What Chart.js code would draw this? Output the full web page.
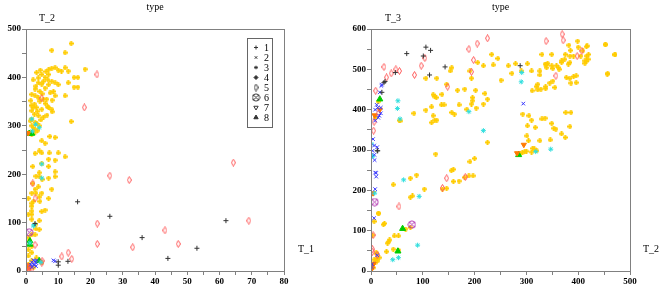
<!DOCTYPE html>
<html>
<head>
<meta charset="utf-8">
<script src="https://cdn.jsdelivr.net/npm/chart.js@4/dist/chart.umd.min.js"></script>
<style>
  body { margin: 0; background: #fff; }
  #wrap { position: relative; width: 664px; height: 292px; }
  canvas { position: absolute; top: 0; }
</style>
</head>
<body>
<div id="wrap">
  <canvas id="leftChart" width="332" height="292" style="left:0"></canvas>
  <canvas id="rightChart" width="332" height="292" style="left:332px"></canvas>
</div>
<script>
// series labels (values of "type")
const typeLabels = ['1', '2', '3', '4', '5', '6', '7', '8'];

// left panel: T_1 (x) against T_2 (y)
const leftType1 = [[16,143],[26,113],[36,69],[62,104],[53,47],[44,26],[13,20],[10,19],[10,12],[2.8,98]];
const leftType2 = [[1.8,8],[2.3,14],[2.8,20],[3.1,17],[2.3,22],[1.8,18],[3.1,10],[2.6,12],[3.3,22],[9,20],[8.5,22],[1.5,13]];
const leftType3 = [[1.8,314],[4.1,296],[2.3,93],[4.9,192],[4.9,221],[3.0,303],[2.0,289],[2.6,96],[1.2,58],[4.6,18]];
const leftType4 = [
  [14,470],[8,456],[12.1,451],[18.3,417],[16.1,400],[16.1,380],[14.9,400],[14.9,380],[13.1,389],[12.1,362],
  [14,309],[8.1,329],[8.1,353],[8.5,371],[6.7,339],[7,416],[8,419],[9,420],[10,415],[11,413],
  [12.1,420],[13.1,413],[7,406],[5.9,400],[4.9,406],[3.8,399],[3.8,389],[4.9,386],[2.8,376],[1.8,365],
  [2.8,362],[4.3,371],[5.9,378],[7,385],[8,392],[9,389],[10,385],[7.5,368],[9,362],[6.4,355],
  [4.3,351],[2.6,345],[1.8,331],[3.2,338],[4.9,334],[7,338],[8,334],[2.6,324],[3.8,321],[5.4,318],
  [1.8,314],[2.8,307],[1.8,300],[2.6,293],[1.2,287],[1.8,283],[4.1,300],[3.2,305],[2.8,287],[5.4,355],
  [5.4,392],[3.8,358],[4.9,269],[5.9,264],[7.4,278],[9,276],[2.2,395],[3.3,410],[4.4,415],[6.2,412],
  [1.5,352],[2.2,338],[3.5,330],[1.3,310],[2.2,296],[3.6,290],[6.5,322],[4.6,312],[6,346],[5,366],
  [6.8,395],[3.1,382],[1.6,342],
  [4.1,248],[4.9,244],[2.8,243],[7.2,244],[10,244],[12.1,236],[7,231],[9,229],[4.9,222],[2.1,216],
  [7,216],[9,205],[4.1,203],[3.1,196],[4.1,195],[7,192],[9,195],[5,189],[2.1,181],[3.8,174],
  [8,169],[2.8,169],[1.8,161],[3.1,161],[4.9,161],[7,150],[4.1,153],[0.7,150],[2.3,144],[4.3,144],
  [5.9,126],[4.9,123],[1.8,140],[1.8,134],[1.8,124],[1.8,117],[0.7,117],[1.8,107],[4.1,104],[2.8,96],
  [3.1,87],[4.1,86],[1.8,75],[2.8,75],[0.7,69],[1.2,62],[1.8,51],[0.7,44],[1.8,38],[0.7,31],
  [3.2,27],[1.8,21],[0.7,14],[4.9,17],[2.3,7],[0.2,4]
];
const leftType5 = [[22,406],[18.1,338],[26,197],[32,188],[64.3,224],[69.1,104],[22.1,98],[43.1,84],[22.1,56],[47.2,56],
  [33.1,49],[13.1,38],[11.1,30],[14.2,25],[4.9,17],[5,21],[2.8,54],[2.1,181],[2.8,150],[4.9,357],[1.2,4],[1.8,3],[0.5,8]];
const leftType6 = [[1,80]];
const leftType7 = [[0.7,12],[0.7,285],[0.3,5],[1.2,7]];
const leftType8 = [[1.2,62],[1.2,55],[4.1,21],[1,284],[1.8,284]];

// right panel: T_2 (x) against T_3 (y)
const rightType1 = [[69,539],[106,555],[115,547],[101,533],[113,486],[143,506],[288,509],[27,470],[13,298],[21,443],[47,492],[25,467],[12,298]];
const rightType2 = [[21,462],[17,443],[20,459],[11,412],[13,405],[19,405],[8,400],[19,391],[14,380],[16,385],
  [8,373],[294,415],[6.5,288],[8,244],[10,243],[10,234],[8,203],[6,131],[12,39],[2,17],[1,10],[4,327],[6,311],[3,298],[12,307],[7,275]];
const rightType3 = [[52,422],[51,403],[56,377],[291,492],[290,469],[217,348],[189,395],[63,226],[93,185],[90,64],
  [42,28],[53,33],[347,302],[3,285],[7,193],[1,315],[2,284],[318,296]];
const rightType4 = [
  [453,562],[471,537],[457,490],[399,570],[382,560],[417,558],[400,555],[385,547],[420,537],[413,521],
  [375,537],[368,521],[381,513],[362,504],[349,509],[336,513],[330,537],[349,537],[326,496],[310,496],
  [302,514],[290,496],[279,514],[265,509],[272,490],[251,473],[236,511],[245,527],[233,537],[217,509],
  [206,517],[191,496],[194,478],[156,504],[153,496],[127,478],[106,478],[83,391],[106,399],[120,437],
  [123,432],[126,430],[137,438],[146,463],[167,448],[181,451],[202,448],[196,430],[196,422],[194,414],
  [185,401],[203,404],[220,440],[225,426],[217,414],[170,412],[136,412],[141,412],[156,393],[161,389],
  [117,407],[120,385],[117,368],[123,374],[127,374],[56,372],[293,389],[305,385],[310,374],[330,377],
  [336,379],[349,366],[353,354],[357,352],[368,340],[376,393],[386,393],[384,358],[375,331],[302,360],
  [301,335],[304,323],[326,323],[346,325],[225,319],[317,356],
  [413,515],[416,520],[419,525],[405,533],[416,533],[416,556],[409,546],[384,533],[391,533],[374,525],
  [384,517],[368,517],[358,509],[363,500],[351,502],[339,504],[338,512],[377,480],[384,477],[391,482],
  [396,484],[396,467],[386,466],[351,471],[345,466],[337,457],[322,463],[319,457],[322,449],[311,447],
  [328,451],[337,452],[355,455],[326,486],[341,515],[452,561],[471,536],[456,488],
  [125,290],[200,279],[191,271],[159,252],[155,249],[159,222],[170,223],[181,232],[189,236],[197,236],
  [138,203],[146,205],[103,203],[76,183],[80,186],[88,238],[76,230],[43,214],[14,143],[24,115],
  [26,118],[3,89],[32,69],[34,72],[36,77],[45,87],[53,87],[67,104],[76,108],[43,54],
  [53,52],[30,48],[292,293],[297,296],[300,297],[310,295],[315,303],[320,298],[312,304],[288,292],
  [14,420],[9,380],[55,373],[6,123],[15,143],[11,43],[6,28],[11,31],[16,33],[8,20],[10,45],[13,25],[4,8]
];
const rightType5 = [[225,577],[205,564],[189,550],[198,523],[194,494],[148,457],[369,587],[371,572],[338,570],[407,546],
  [398,533],[357,484],[25,506],[30,480],[39,490],[48,500],[55,496],[84,486],[97,509],[104,528],
  [146,230],[54,160],[3,54],[9,447],[14,391],[6,370],[5,348],[4,89],[3,48],[182,233],[138,206],[12,40]];
const rightType6 = [[79,115],[7,171]];
const rightType7 = [[295,313],[282,292],[2,6],[3,13],[17,400],[7,386],[4,193],[5,18]];
const rightType8 = [[285,288],[61,105],[52,49],[17,426]];

const serif = '"Liberation Serif", "Times New Roman", serif';

// small bitmap markers
function markDiamond(color) {
  const c = document.createElement('canvas');
  c.width = 5; c.height = 8;
  const g = c.getContext('2d');
  g.strokeStyle = color; g.lineWidth = 1;
  g.beginPath();
  g.moveTo(2.5, 0.5); g.lineTo(4.5, 4); g.lineTo(2.5, 7.5); g.lineTo(0.5, 4); g.closePath();
  g.stroke();
  return c;
}
function markCircleX(color) {
  const c = document.createElement('canvas');
  c.width = 9; c.height = 9;
  const g = c.getContext('2d');
  g.strokeStyle = color; g.lineWidth = 1;
  g.beginPath(); g.arc(4.5, 4.5, 3.6, 0, Math.PI * 2); g.stroke();
  g.beginPath();
  g.moveTo(2.2, 2.2); g.lineTo(6.8, 6.8); g.moveTo(6.8, 2.2); g.lineTo(2.2, 6.8);
  g.stroke();
  return c;
}
function markPlus(color) {
  const c = document.createElement('canvas');
  c.width = 5; c.height = 5;
  const g = c.getContext('2d');
  g.fillStyle = color;
  g.fillRect(0, 1.5, 5, 2);
  g.fillRect(1.5, 0, 2, 5);
  return c;
}

const styles = [
  { color: '#333333', pointStyle: 'cross', radius: 2.5, borderWidth: 1 },
  { color: '#3838ff', pointStyle: 'crossRot', radius: 2.5, borderWidth: 1 },
  { color: '#30dede', pointStyle: 'star', radius: 2.5, borderWidth: 1 },
  { color: '#ffcc00', pointStyle: markPlus('#ffcc00'), radius: 3, borderWidth: 0, order: 5 },
  { color: '#ff5c5c', pointStyle: markDiamond('#ff5c5c'), radius: 3, borderWidth: 1 },
  { color: '#b030b0', pointStyle: markCircleX('#b030b0'), radius: 4, borderWidth: 1 },
  { color: '#ff7a00', pointStyle: 'triangle', rotation: 180, radius: 3, borderWidth: 1 },
  { color: '#00cc00', pointStyle: 'triangle', radius: 3.5, borderWidth: 1 }
];

const legendStyles = [
  { pointStyle: 'cross', radius: 2, borderWidth: 1 },
  { pointStyle: 'crossRot', radius: 1.8, borderWidth: 1 },
  { pointStyle: 'star', radius: 1.8, borderWidth: 1 },
  { pointStyle: 'rectRot', radius: 2, borderWidth: 1 },
  { pointStyle: markDiamond('#333'), radius: 3, borderWidth: 1 },
  { pointStyle: markCircleX('#333'), radius: 3, borderWidth: 1 },
  { pointStyle: 'triangle', rotation: 180, radius: 2.5, borderWidth: 1, hollow: true },
  { pointStyle: 'triangle', radius: 2.5, borderWidth: 1 }
];

function buildDatasets(seriesList) {
  return seriesList.map((pts, i) => {
    const s = styles[i];
    return {
      label: typeLabels[i],
      data: pts.map(p => ({ x: p[0], y: p[1] })),
      pointStyle: s.pointStyle,
      pointRadius: s.radius,
      pointHoverRadius: s.radius,
      pointRotation: s.rotation || 0,
      pointBorderWidth: s.borderWidth,
      borderColor: s.color,
      backgroundColor: s.color,
      order: s.order || 0,
      showLine: false
    };
  });
}

function axis(max, step, fit) {
  return {
    type: 'linear',
    min: 0,
    max: max,
    ticks: {
      stepSize: step / 2,
      autoSkip: false,
      maxRotation: 0,
      padding: 1,
      color: '#000',
      font: { family: serif, size: 9, weight: 'bold' },
      callback: v => (v % step === 0 ? v : '')
    },
    grid: { display: true, drawOnChartArea: false, drawTicks: true, tickLength: 4, color: '#808080' },
    border: { display: true, color: '#808080' },
    afterFit: fit
  };
}

function framePlugin(opt) {
  return {
    id: 'frame',
    afterDraw(chart) {
      const ctx = chart.ctx;
      const a = chart.chartArea;
      ctx.save();
      ctx.strokeStyle = '#808080';
      ctx.lineWidth = 1;
      ctx.strokeRect(Math.round(a.left) + 0.5, Math.round(a.top) + 0.5,
        Math.round(a.right - a.left), Math.round(a.bottom - a.top));

      ctx.fillStyle = '#000';
      ctx.font = '10px ' + serif;
      ctx.textAlign = 'center';
      ctx.textBaseline = 'middle';
      ctx.fillText('type', (a.left + a.right) / 2, 7);
      ctx.fillText(opt.yName, opt.yNamePos[0], opt.yNamePos[1]);
      ctx.fillText(opt.xName, opt.xNamePos[0], opt.xNamePos[1]);

      if (opt.legend) {
        const L = opt.legend;
        ctx.strokeStyle = '#666';
        ctx.strokeRect(L.x + 0.5, L.y + 0.5, L.w, L.h);
        ctx.textAlign = 'left';
        typeLabels.forEach((lab, i) => {
          const ly = L.y + 9.5 + i * 10;
          const ls = legendStyles[i];
          ctx.fillStyle = ls.hollow ? 'rgba(0,0,0,0)' : '#333';
          ctx.strokeStyle = '#333';
          ctx.lineWidth = ls.borderWidth;
          if (Chart.helpers && Chart.helpers.drawPoint) {
            Chart.helpers.drawPoint(ctx, {
              pointStyle: ls.pointStyle, radius: ls.radius,
              rotation: ls.rotation || 0, borderWidth: ls.borderWidth
            }, L.x + 9, ly);
          }
          ctx.fillStyle = '#000';
          ctx.fillText(lab, L.x + 17, ly + 0.5);
        });
      }
      ctx.restore();
    }
  };
}

function makeChart(id, seriesList, xMax, xStep, yMax, yStep, yWidth, rightPad, opt) {
  new Chart(document.getElementById(id), {
    type: 'scatter',
    data: { datasets: buildDatasets(seriesList) },
    options: {
      responsive: false,
      animation: false,
      events: [],
      layout: { padding: { top: 29, right: rightPad, left: 0, bottom: 0 } },
      scales: {
        x: axis(xMax, xStep, s => { s.height = 21; }),
        y: axis(yMax, yStep, s => { s.width = yWidth; })
      },
      plugins: { legend: { display: false }, tooltip: { enabled: false }, title: { display: false } }
    },
    plugins: [framePlugin(opt)]
  });
}

makeChart('leftChart',
  [leftType1, leftType2, leftType3, leftType4, leftType5, leftType6, leftType7, leftType8],
  80, 10, 500, 100, 26, 48,
  { yName: 'T_2', yNamePos: [47, 18], xName: 'T_1', xNamePos: [306, 249],
    legend: { x: 247, y: 38, w: 25, h: 89 } });

makeChart('rightChart',
  [rightType1, rightType2, rightType3, rightType4, rightType5, rightType6, rightType7, rightType8],
  500, 100, 600, 100, 39, 34,
  { yName: 'T_3', yNamePos: [61, 18], xName: 'T_2', xNamePos: [319, 249] });
</script>
</body>
</html>
